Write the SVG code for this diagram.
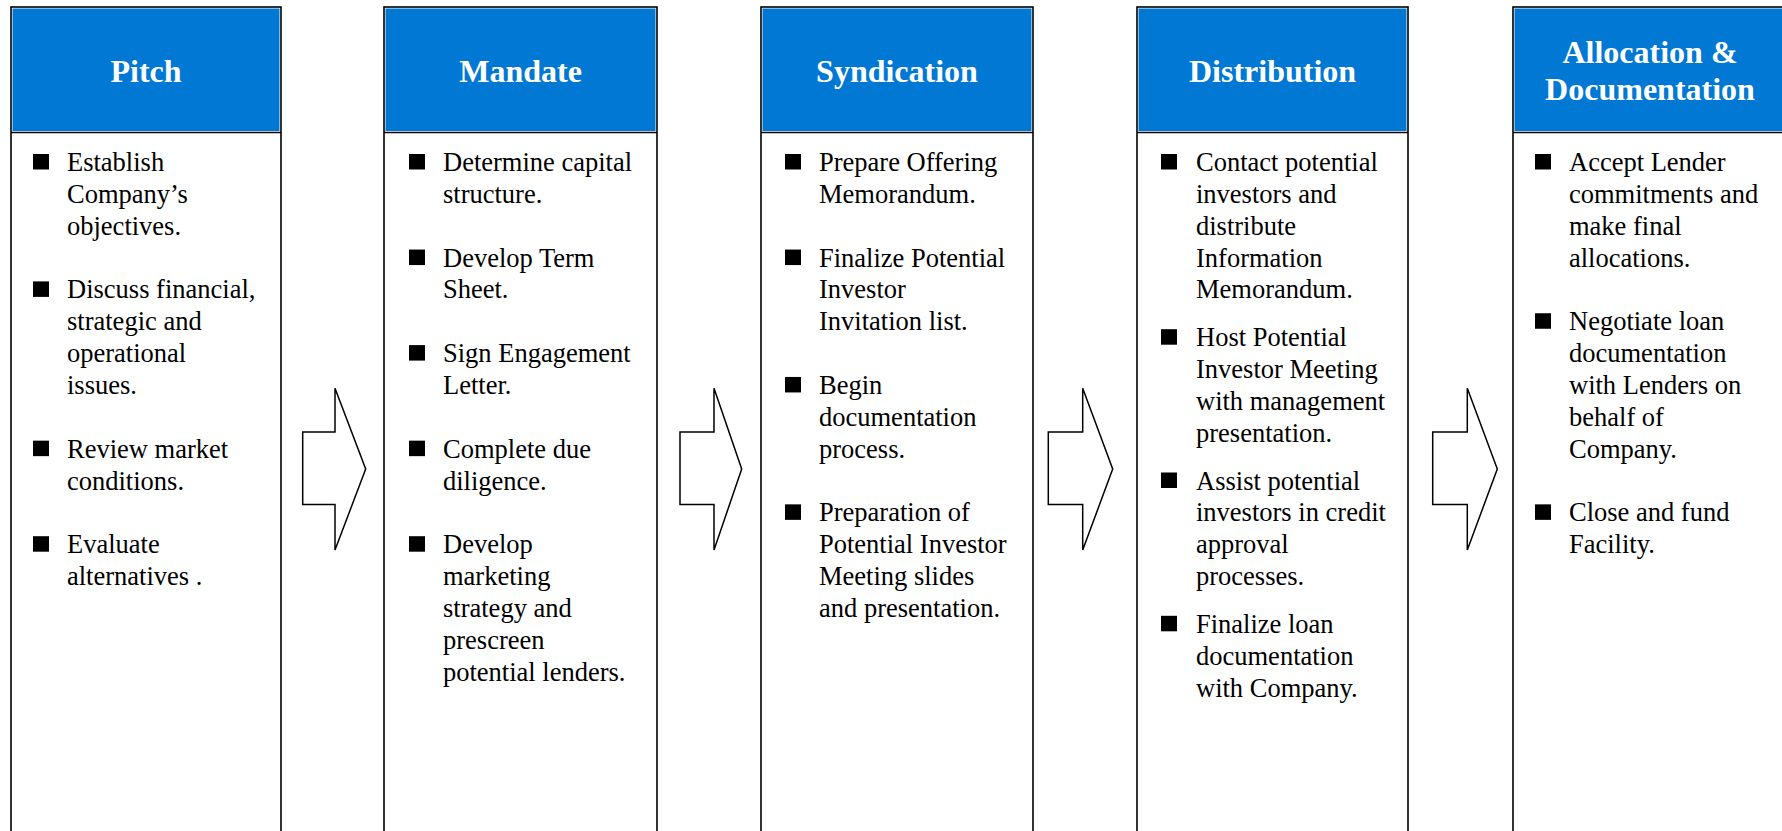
<svg xmlns="http://www.w3.org/2000/svg" width="1782" height="831" viewBox="0 0 1782 831">
  <style>
    .frame { fill: #ffffff; stroke: #000000; stroke-width: 1.6; }
    .head { fill: #0078d4; }
    .rule { stroke: #000000; stroke-width: 1.6; }
    .title { font-family: "Liberation Serif", "Times New Roman", serif; font-weight: bold; font-size: 32px; fill: #ffffff; text-anchor: middle; }
    .item { font-family: "Liberation Serif", "Times New Roman", serif; font-size: 26.5px; fill: #000000; }
    .dot { fill: #000000; }
    .arrow { fill: #ffffff; stroke: #000000; stroke-width: 1.5; stroke-linejoin: miter; }
  </style>

  <rect width="1782" height="831" fill="#ffffff"/>

  <!-- Stage 1 -->
  <g id="pitch">
    <rect class="frame" x="11" y="7" width="270" height="900"/>
    <rect class="head" x="12.5" y="8.5" width="267" height="122.5"/>
    <line class="rule" x1="11" y1="132.5" x2="281" y2="132.5"/>
    <text class="title" x="146" y="81.5">Pitch</text>
    <rect class="dot" x="33" y="154" width="16" height="15.5"/>
    <text class="item" x="67" y="171">Establish<tspan x="67" dy="31.85">Company’s</tspan><tspan x="67" dy="31.85">objectives.</tspan></text>
    <rect class="dot" x="33" y="281.4" width="16" height="15.5"/>
    <text class="item" x="67" y="298.4">Discuss financial,<tspan x="67" dy="31.85">strategic and</tspan><tspan x="67" dy="31.85">operational</tspan><tspan x="67" dy="31.85">issues.</tspan></text>
    <rect class="dot" x="33" y="440.65" width="16" height="15.5"/>
    <text class="item" x="67" y="457.65">Review market<tspan x="67" dy="31.85">conditions.</tspan></text>
    <rect class="dot" x="33" y="536.2" width="16" height="15.5"/>
    <text class="item" x="67" y="553.2">Evaluate<tspan x="67" dy="31.85">alternatives .</tspan></text>
  </g>

  <!-- Stage 2 -->
  <g id="mandate">
    <rect class="frame" x="384" y="7" width="273" height="900"/>
    <rect class="head" x="385.5" y="8.5" width="270" height="122.5"/>
    <line class="rule" x1="384" y1="132.5" x2="657" y2="132.5"/>
    <text class="title" x="520.5" y="81.5">Mandate</text>
    <rect class="dot" x="409" y="154" width="16" height="15.5"/>
    <text class="item" x="443" y="171">Determine capital<tspan x="443" dy="31.85">structure.</tspan></text>
    <rect class="dot" x="409" y="249.55" width="16" height="15.5"/>
    <text class="item" x="443" y="266.55">Develop Term<tspan x="443" dy="31.85">Sheet.</tspan></text>
    <rect class="dot" x="409" y="345.1" width="16" height="15.5"/>
    <text class="item" x="443" y="362.1">Sign Engagement<tspan x="443" dy="31.85">Letter.</tspan></text>
    <rect class="dot" x="409" y="440.65" width="16" height="15.5"/>
    <text class="item" x="443" y="457.65">Complete due<tspan x="443" dy="31.85">diligence.</tspan></text>
    <rect class="dot" x="409" y="536.2" width="16" height="15.5"/>
    <text class="item" x="443" y="553.2">Develop<tspan x="443" dy="31.85">marketing</tspan><tspan x="443" dy="31.85">strategy and</tspan><tspan x="443" dy="31.85">prescreen</tspan><tspan x="443" dy="31.85">potential lenders.</tspan></text>
  </g>

  <!-- Stage 3 -->
  <g id="syndication">
    <rect class="frame" x="761" y="7" width="272" height="900"/>
    <rect class="head" x="762.5" y="8.5" width="269" height="122.5"/>
    <line class="rule" x1="761" y1="132.5" x2="1033" y2="132.5"/>
    <text class="title" x="897" y="81.5">Syndication</text>
    <rect class="dot" x="785" y="154" width="16" height="15.5"/>
    <text class="item" x="819" y="171">Prepare Offering<tspan x="819" dy="31.85">Memorandum.</tspan></text>
    <rect class="dot" x="785" y="249.55" width="16" height="15.5"/>
    <text class="item" x="819" y="266.55">Finalize Potential<tspan x="819" dy="31.85">Investor</tspan><tspan x="819" dy="31.85">Invitation list.</tspan></text>
    <rect class="dot" x="785" y="376.95" width="16" height="15.5"/>
    <text class="item" x="819" y="393.95">Begin<tspan x="819" dy="31.85">documentation</tspan><tspan x="819" dy="31.85">process.</tspan></text>
    <rect class="dot" x="785" y="504.35" width="16" height="15.5"/>
    <text class="item" x="819" y="521.35">Preparation of<tspan x="819" dy="31.85">Potential Investor</tspan><tspan x="819" dy="31.85">Meeting slides</tspan><tspan x="819" dy="31.85">and presentation.</tspan></text>
  </g>

  <!-- Stage 4 -->
  <g id="distribution">
    <rect class="frame" x="1137" y="7" width="271" height="900"/>
    <rect class="head" x="1138.5" y="8.5" width="268" height="122.5"/>
    <line class="rule" x1="1137" y1="132.5" x2="1408" y2="132.5"/>
    <text class="title" x="1272.5" y="81.5">Distribution</text>
    <rect class="dot" x="1161" y="154" width="16" height="15.5"/>
    <text class="item" x="1196" y="171">Contact potential<tspan x="1196" dy="31.85">investors and</tspan><tspan x="1196" dy="31.85">distribute</tspan><tspan x="1196" dy="31.85">Information</tspan><tspan x="1196" dy="31.85">Memorandum.</tspan></text>
    <rect class="dot" x="1161" y="329.2" width="16" height="15.5"/>
    <text class="item" x="1196" y="346.2">Host Potential<tspan x="1196" dy="31.85">Investor Meeting</tspan><tspan x="1196" dy="31.85">with management</tspan><tspan x="1196" dy="31.85">presentation.</tspan></text>
    <rect class="dot" x="1161" y="472.5" width="16" height="15.5"/>
    <text class="item" x="1196" y="489.5">Assist potential<tspan x="1196" dy="31.85">investors in credit</tspan><tspan x="1196" dy="31.85">approval</tspan><tspan x="1196" dy="31.85">processes.</tspan></text>
    <rect class="dot" x="1161" y="615.8" width="16" height="15.5"/>
    <text class="item" x="1196" y="632.8">Finalize loan<tspan x="1196" dy="31.85">documentation</tspan><tspan x="1196" dy="31.85">with Company.</tspan></text>
  </g>

  <!-- Stage 5 -->
  <g id="allocation">
    <rect class="frame" x="1513" y="7" width="272" height="900"/>
    <rect class="head" x="1514.5" y="8.5" width="269" height="122.5"/>
    <line class="rule" x1="1513" y1="132.5" x2="1785" y2="132.5"/>
    <text class="title" x="1650" y="63">Allocation &amp;<tspan x="1650" dy="37">Documentation</tspan></text>
    <rect class="dot" x="1535" y="154" width="16" height="15.5"/>
    <text class="item" x="1569" y="171">Accept Lender<tspan x="1569" dy="31.85">commitments and</tspan><tspan x="1569" dy="31.85">make final</tspan><tspan x="1569" dy="31.85">allocations.</tspan></text>
    <rect class="dot" x="1535" y="313.25" width="16" height="15.5"/>
    <text class="item" x="1569" y="330.25">Negotiate loan<tspan x="1569" dy="31.85">documentation</tspan><tspan x="1569" dy="31.85">with Lenders on</tspan><tspan x="1569" dy="31.85">behalf of</tspan><tspan x="1569" dy="31.85">Company.</tspan></text>
    <rect class="dot" x="1535" y="504.35" width="16" height="15.5"/>
    <text class="item" x="1569" y="521.35">Close and fund<tspan x="1569" dy="31.85">Facility.</tspan></text>
  </g>

  <!-- Block arrows between stages -->
  <g id="connectors">
    <polygon class="arrow" points="302.7,432 335,432 335,388.3 365.7,469 335,550 335,504.5 302.7,504.5"/>
    <polygon class="arrow" points="680,432 714,432 714,388.3 741.7,469 714,550 714,504.5 680,504.5"/>
    <polygon class="arrow" points="1048.3,432 1082.7,432 1082.7,388.3 1112.7,469 1082.7,550 1082.7,504.5 1048.3,504.5"/>
    <polygon class="arrow" points="1432.7,432 1467.3,432 1467.3,388.3 1497.3,469 1467.3,550 1467.3,504.5 1432.7,504.5"/>
  </g>
</svg>
